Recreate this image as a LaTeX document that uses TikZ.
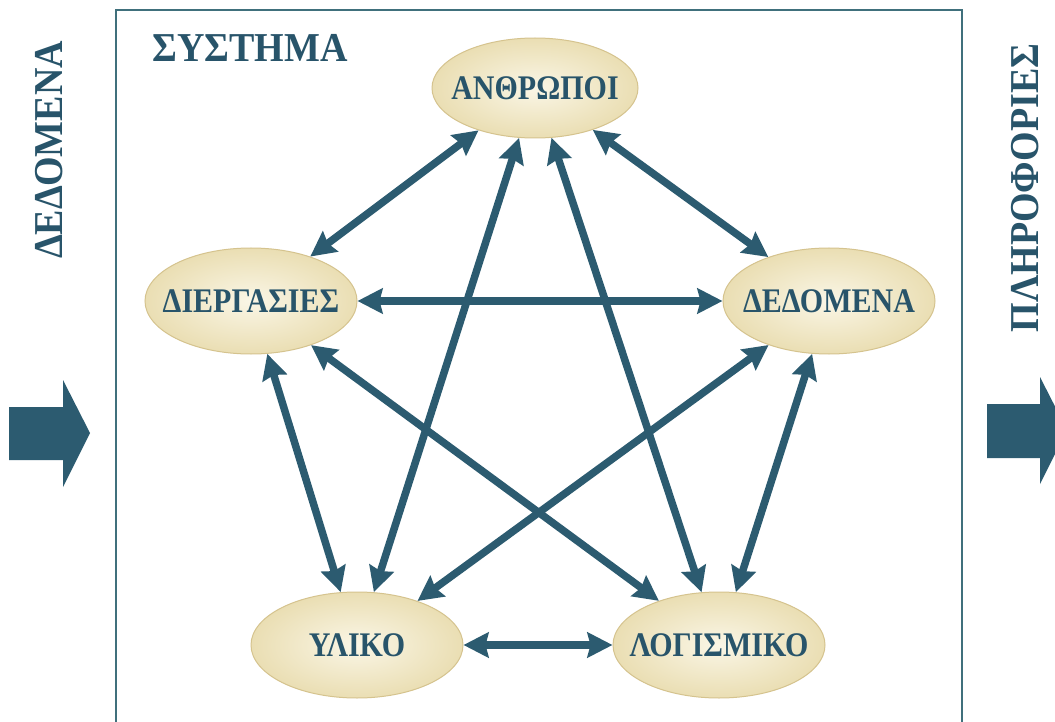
\documentclass[tikz,border=0pt]{standalone}
\usepackage{fontspec}
\setmainfont{Liberation Serif}
\usetikzlibrary{arrows.meta,shapes.geometric}
\definecolor{teal1}{HTML}{2C5B70}
\definecolor{txt}{HTML}{28546A}
\definecolor{boxc}{HTML}{40707C}
\definecolor{ellin}{HTML}{FAF6E6}
\definecolor{ellout}{HTML}{EADEB3}
\definecolor{ellb}{HTML}{D5C38E}
\begin{document}
\begin{tikzpicture}[x=1pt,y=-1pt,
 ent/.style={ellipse, minimum width=212pt, minimum height=106pt, inner sep=0pt,
   draw=ellb, line width=1pt, inner color=ellin, outer color=ellout},
 enttext/.style={font=\bfseries\fontsize{30}{32}\selectfont, text=txt, inner sep=0pt, yscale=1.15},
 conn/.style={draw=teal1, line width=7.5pt,
   {Stealth[length=25pt,width=25pt,inset=3pt]}-{Stealth[length=25pt,width=25pt,inset=3pt]}},
 big/.style={font=\bfseries\fontsize{38}{40}\selectfont, text=txt, inner sep=0pt},
 block/.style={fill=teal1}]
\useasboundingbox (0,0) rectangle (1055,722);
\fill[white] (0,0) rectangle (1055,722);
\draw[boxc, line width=1.5pt] (116,10) rectangle (962,735);
\node[big, anchor=base west, yscale=1.08] (sys) at (152,62) {ΣΥΣΤΗΜΑ};
\node[big, rotate=90, anchor=base, yscale=1.08] (inp) at (62,150) {ΔΕΔΟΜΕΝΑ};
\node[big, rotate=90, anchor=base, yscale=1.08] (outp) at (1038,188) {ΠΛΗΡΟΦΟΡΙΕΣ};
\fill[block] (9,407) -- (63,407) -- (63,380) -- (90,433) -- (63,487) -- (63,460) -- (9,460) -- cycle;
\fill[block] (987,404) -- (1040,404) -- (1040,377) -- (1067,430) -- (1040,484) -- (1040,458) -- (987,458) -- cycle;
\node[ent, minimum width=206pt, minimum height=100pt, label={[enttext]center:ΑΝΘΡΩΠΟΙ}] (anth) at (535,88) {};
\node[ent, label={[enttext]center:ΔΙΕΡΓΑΣΙΕΣ}] (dier) at (251,301) {};
\node[ent, label={[enttext]center:ΔΕΔΟΜΕΝΑ}] (ded) at (829,301) {};
\node[ent, label={[enttext]center:ΥΛΙΚΟ}] (ylik) at (357,645) {};
\node[ent, label={[enttext]center:ΛΟΓΙΣΜΙΚΟ}] (log) at (719,645) {};
\draw[conn] (anth) -- (dier);
\draw[conn] (anth) -- (ylik);
\draw[conn] (anth) -- (log);
\draw[conn] (anth) -- (ded);
\draw[conn] (dier) -- (ded);
\draw[conn] (dier) -- (ylik);
\draw[conn] (dier) -- (log);
\draw[conn] (ded) -- (ylik);
\draw[conn] (ded) -- (log);
\draw[conn] (ylik) -- (log);
\end{tikzpicture}
\end{document}
